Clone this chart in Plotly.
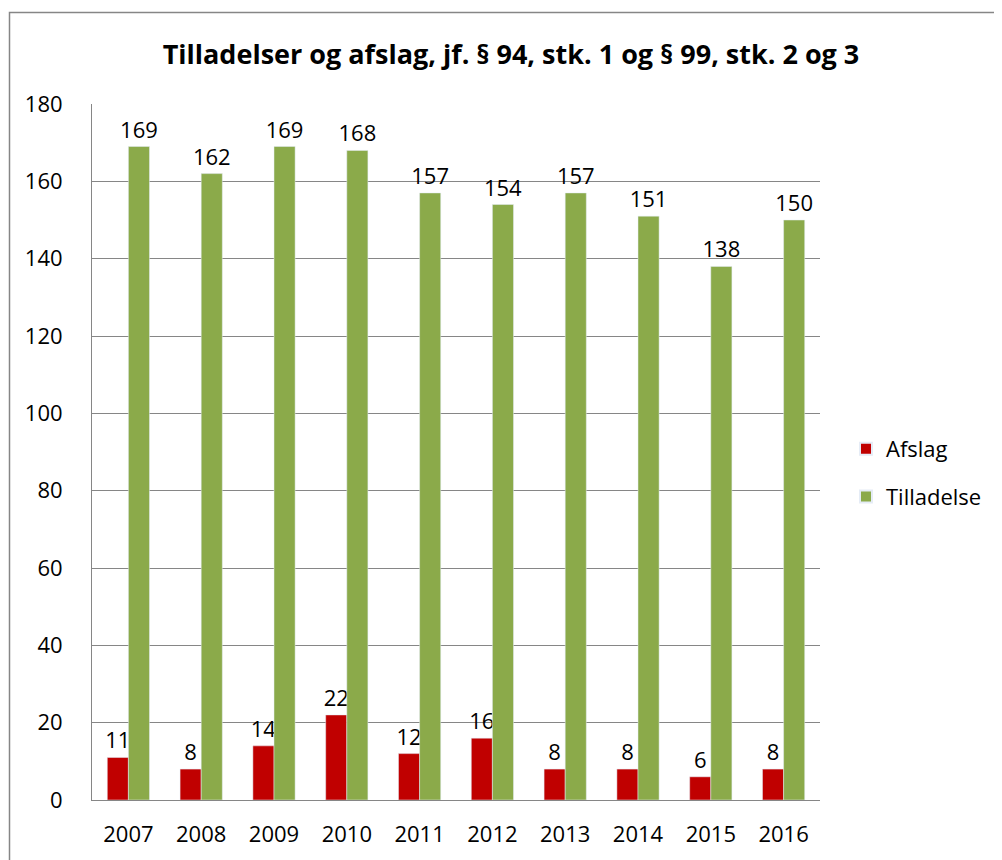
import plotly.graph_objects as go

years = ["2007", "2008", "2009", "2010", "2011", "2012", "2013", "2014", "2015", "2016"]
afslag = [11, 8, 14, 22, 12, 16, 8, 8, 6, 8]
tilladelse = [169, 162, 169, 168, 157, 154, 157, 151, 138, 150]

FONT = "Open Sans, Noto Sans, sans-serif"
W, H = 1002, 860
OFF = 8  # page body margin offset
L, R, T, B = 92 - OFF, W - (820 - OFF), 104 - OFF, H - (800 - OFF)
pw, ph = W - L - R, H - T - B

fig = go.Figure()
fig.add_trace(go.Bar(name="Afslag", x=years, y=afslag, marker_color="#C00000",
                     text=afslag, textposition="outside", cliponaxis=False,
                     constraintext="none", legendgroup="a",
                     textfont=dict(size=22, color="black", family=FONT)))
fig.add_trace(go.Bar(name="Tilladelse", x=years, y=tilladelse, marker_color="#8BAA4A",
                     text=tilladelse, textposition="outside", cliponaxis=False,
                     constraintext="none", legendgroup="b",
                     textfont=dict(size=22, color="black", family=FONT)))

def px_x(x):
    return (x - OFF - L) / pw

def px_y(y):
    return (H - B - (y - OFF)) / ph

fig.update_layout(
    width=W, height=H,
    margin=dict(l=L, r=R, t=T, b=B, autoexpand=False),
    barmode="group", bargap=0.42, bargroupgap=0,
    plot_bgcolor="white", paper_bgcolor="white",
    font=dict(family=FONT, size=22, color="black"),
    title=dict(text="<b>Tilladelser og afslag, jf. § 94, stk. 1 og § 99, stk. 2 og 3</b>",
               x=(511 - OFF) / W, xanchor="center", y=1 - (55 - OFF) / H, yanchor="middle",
               font=dict(size=27, family=FONT, color="black")),
    legend=dict(x=px_x(846), y=px_y(428), xanchor="left", yanchor="top",
                font=dict(size=22, family=FONT), tracegroupgap=16, itemsizing="constant",
                bgcolor="rgba(0,0,0,0)"),
    yaxis=dict(range=[0, 180], dtick=20, showgrid=True, gridcolor="#868686", gridwidth=1,
               showline=True, linecolor="#868686", linewidth=1, zeroline=False,
               ticks="", ticklabelstandoff=24, tickfont=dict(size=22), automargin=False),
    xaxis=dict(showline=True, linecolor="#868686", linewidth=1, ticks="",
               ticklabelstandoff=15, tickfont=dict(size=22), automargin=False),
    showlegend=True,
)

fig.add_shape(type="rect", xref="paper", yref="paper",
              x0=px_x(9.5), x1=px_x(1030), y0=px_y(890), y1=px_y(12.5),
              line=dict(color="#868686", width=1.5), fillcolor="rgba(0,0,0,0)", layer="below")

fig.write_html("out.html")
